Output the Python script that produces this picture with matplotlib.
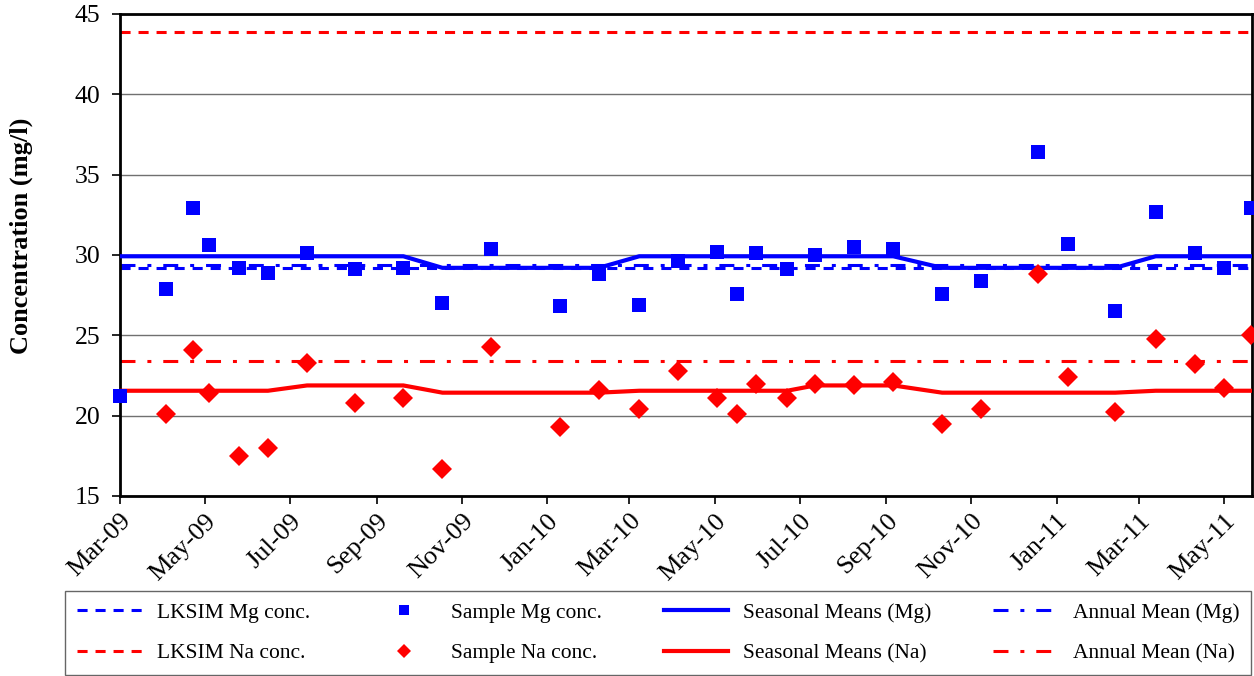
import numpy as np
import pandas as pd
import matplotlib
matplotlib.use("Agg")
from matplotlib import pyplot as plt
import matplotlib.dates as mdates

plt.rcParams['font.family'] = ['Liberation Serif', 'DejaVu Serif']

# sample dates and measured concentrations (mg/l)
sample_dates = ['2009-03-01', '2009-04-03', '2009-04-22', '2009-05-04', '2009-05-25',
                '2009-06-15', '2009-07-13', '2009-08-16', '2009-09-20', '2009-10-18',
                '2009-11-22', '2010-01-10', '2010-02-07', '2010-03-08', '2010-04-05',
                '2010-05-03', '2010-05-17', '2010-05-31', '2010-06-22', '2010-07-12',
                '2010-08-09', '2010-09-06', '2010-10-11', '2010-11-08', '2010-12-19',
                '2011-01-09', '2011-02-12', '2011-03-13', '2011-04-10', '2011-05-01',
                '2011-05-20']
mg_sample = [21.2, 27.9, 32.9, 30.6, 29.2, 28.9, 30.1, 29.1, 29.2, 27.0,
             30.4, 26.8, 28.8, 26.9, 29.6, 30.2, 27.6, 30.1, 29.1, 30.0,
             30.5, 30.4, 27.6, 28.4, 36.4, 30.7, 26.5, 32.7, 30.1, 29.2,
             32.9]
na_sample = [np.nan, 20.1, 24.1, 21.4, 17.5, 18.0, 23.3, 20.8, 21.1, 16.7,
             24.3, 19.3, 21.6, 20.4, 22.8, 21.1, 20.1, 22.0, 21.1, 22.0,
             21.9, 22.1, 19.5, 20.4, 28.8, 22.4, 20.2, 24.8, 23.2, 21.7,
             25.0]
mg_seasonal = [29.92, 29.92, 29.92, 29.92, 29.92, 29.92, 29.92, 29.92, 29.92, 29.2,
               29.2, 29.2, 29.2, 29.92, 29.92, 29.92, 29.92, 29.92, 29.92, 29.92,
               29.92, 29.92, 29.2, 29.2, 29.2, 29.2, 29.2, 29.92, 29.92, 29.92,
               29.92]
na_seasonal = [21.55, 21.55, 21.55, 21.55, 21.55, 21.55, 21.88, 21.88, 21.88, 21.43,
               21.43, 21.43, 21.43, 21.55, 21.55, 21.55, 21.55, 21.55, 21.55, 21.88,
               21.88, 21.88, 21.43, 21.43, 21.43, 21.43, 21.43, 21.55, 21.55, 21.55,
               21.55]
lksim_mg = 29.2
lksim_na = 43.9
annual_mg = 29.35
annual_na = 23.4

x_start = '2009-03-01'
x_end = '2011-05-21'
tick_dates = pd.date_range('2009-03-01', '2011-05-01', freq='2MS')

dates = pd.to_datetime(sample_dates)

fig = plt.figure(figsize=(12.54, 6.76), dpi=100)
ax = fig.add_axes([0.0957, 0.2663, 0.9027, 0.713])

ax.grid(axis='y', color='#707070', lw=1.0, zorder=0)
ax.set_axisbelow(True)

dash = (3.3, 2.6)
dashdot = (4.9, 3.9, 1.3, 3.9)
l1, = ax.plot([], [], color='blue', lw=2.2, dashes=dash, label='LKSIM Mg conc.')
ax.axhline(lksim_mg, color='blue', lw=2.2, dashes=dash, zorder=2)
l2, = ax.plot([], [], color='red', lw=2.2, dashes=dash, label='LKSIM Na conc.')
ax.axhline(lksim_na, color='red', lw=2.2, dashes=dash, zorder=2)

l7, = ax.plot([], [], color='blue', lw=2.2, dashes=dashdot, label='Annual Mean (Mg)')
ax.axhline(annual_mg, color='blue', lw=2.2, dashes=dashdot, zorder=2)
l8, = ax.plot([], [], color='red', lw=2.2, dashes=dashdot, label='Annual Mean (Na)')
ax.axhline(annual_na, color='red', lw=2.2, dashes=dashdot, zorder=2)

l5, = ax.plot(dates, mg_seasonal, color='blue', lw=3, label='Seasonal Means (Mg)', zorder=3)
l6, = ax.plot(dates, na_seasonal, color='red', lw=3, label='Seasonal Means (Na)', zorder=3)

l4, = ax.plot(dates, na_sample, 'D', color='red', ms=10.5, mew=0, label='Sample Na conc.', zorder=4,
              clip_on=False)
l3, = ax.plot(dates, mg_sample, 's', color='blue', ms=10.5, mew=0, label='Sample Mg conc.', zorder=5,
              clip_on=False)

ax.set_xlim(pd.Timestamp(x_start), pd.Timestamp(x_end))
ax.set_ylim(15, 45)
ax.set_yticks(range(15, 46, 5))
ax.set_xticks(tick_dates)
ax.xaxis.set_major_formatter(mdates.DateFormatter('%b-%y'))
plt.setp(ax.get_xticklabels(), rotation=45, ha='right', rotation_mode='anchor')
ax.tick_params(axis='both', direction='out', length=6, width=1.2, colors='black')
ax.tick_params(axis='x', labelsize=19, pad=4)
ax.tick_params(axis='y', labelsize=18.5, pad=8)
ax.set_ylabel('Concentration (mg/l)', fontsize=19, fontweight='bold')
ax.yaxis.set_label_coords(-0.077, 0.539)

for s in ax.spines.values():
    s.set_linewidth(2)
    s.set_color('black')

handles = [l1, l2, l3, l4, l5, l6, l7, l8]
leg = fig.legend(handles=handles, ncol=4, loc='lower left',
                 bbox_to_anchor=(0.052, 0.0015, 0.946, 0.1225), mode='expand',
                 borderaxespad=0, fontsize=15.5, frameon=True, fancybox=False,
                 edgecolor='#404040', handlelength=3.0, handletextpad=0.7,
                 markerscale=0.65, labelspacing=0.95, borderpad=0.55, columnspacing=2.0)
leg.get_frame().set_linewidth(1.0)

fig.savefig('out.png', dpi=100)
